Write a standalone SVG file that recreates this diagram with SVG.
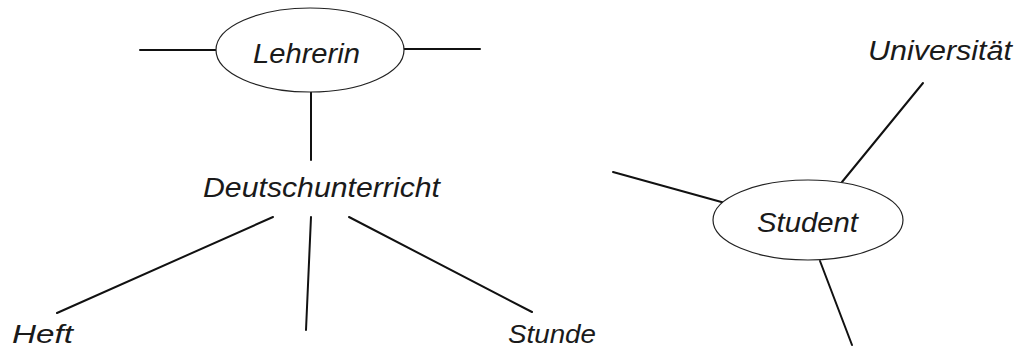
<svg xmlns="http://www.w3.org/2000/svg" width="1016" height="350" viewBox="0 0 1016 350">
<style>
.bg{fill:#ffffff}
.node{fill:#ffffff;stroke:#222222;stroke-width:1.2}
.lbl{font-family:"Liberation Sans","DejaVu Sans",sans-serif;font-style:italic;font-size:27px;fill:#1a1a1a}
.sm{font-size:25px}
.conn line{stroke:#111111;stroke-width:2;stroke-linecap:round}
</style>
<rect class="bg" x="0" y="0" width="1016" height="350"/>
<g id="connectors" class="conn">
<line x1="140" y1="50" x2="216" y2="50"/>
<line x1="404" y1="49" x2="480" y2="49"/>
<line x1="311" y1="92" x2="311" y2="160"/>
<line x1="273" y1="217" x2="57" y2="313"/>
<line x1="311" y1="217" x2="306" y2="330"/>
<line x1="349" y1="217" x2="532" y2="312"/>
<line x1="613" y1="172" x2="725" y2="203"/>
<line x1="842" y1="182" x2="923" y2="83"/>
<line x1="820" y1="261" x2="852" y2="345"/>
</g>
<g id="lehrerin">
<ellipse class="node" cx="310" cy="50" rx="94" ry="42"/>
<text class="lbl" x="253" y="63" textLength="107" lengthAdjust="spacingAndGlyphs">Lehrerin</text>
</g>
<g id="deutschunterricht">
<text class="lbl" x="203" y="197" textLength="237" lengthAdjust="spacingAndGlyphs">Deutschunterricht</text>
</g>
<g id="heft">
<text class="lbl sm" x="12" y="343" textLength="61" lengthAdjust="spacingAndGlyphs">Heft</text>
</g>
<g id="stunde">
<text class="lbl sm" x="508" y="343" textLength="88" lengthAdjust="spacingAndGlyphs">Stunde</text>
</g>
<g id="student">
<ellipse class="node" cx="808" cy="220" rx="95" ry="40"/>
<text class="lbl" x="757" y="232" textLength="101" lengthAdjust="spacingAndGlyphs">Student</text>
</g>
<g id="universitaet">
<text class="lbl" x="868" y="60" textLength="144" lengthAdjust="spacingAndGlyphs">Universität</text>
</g>
</svg>
